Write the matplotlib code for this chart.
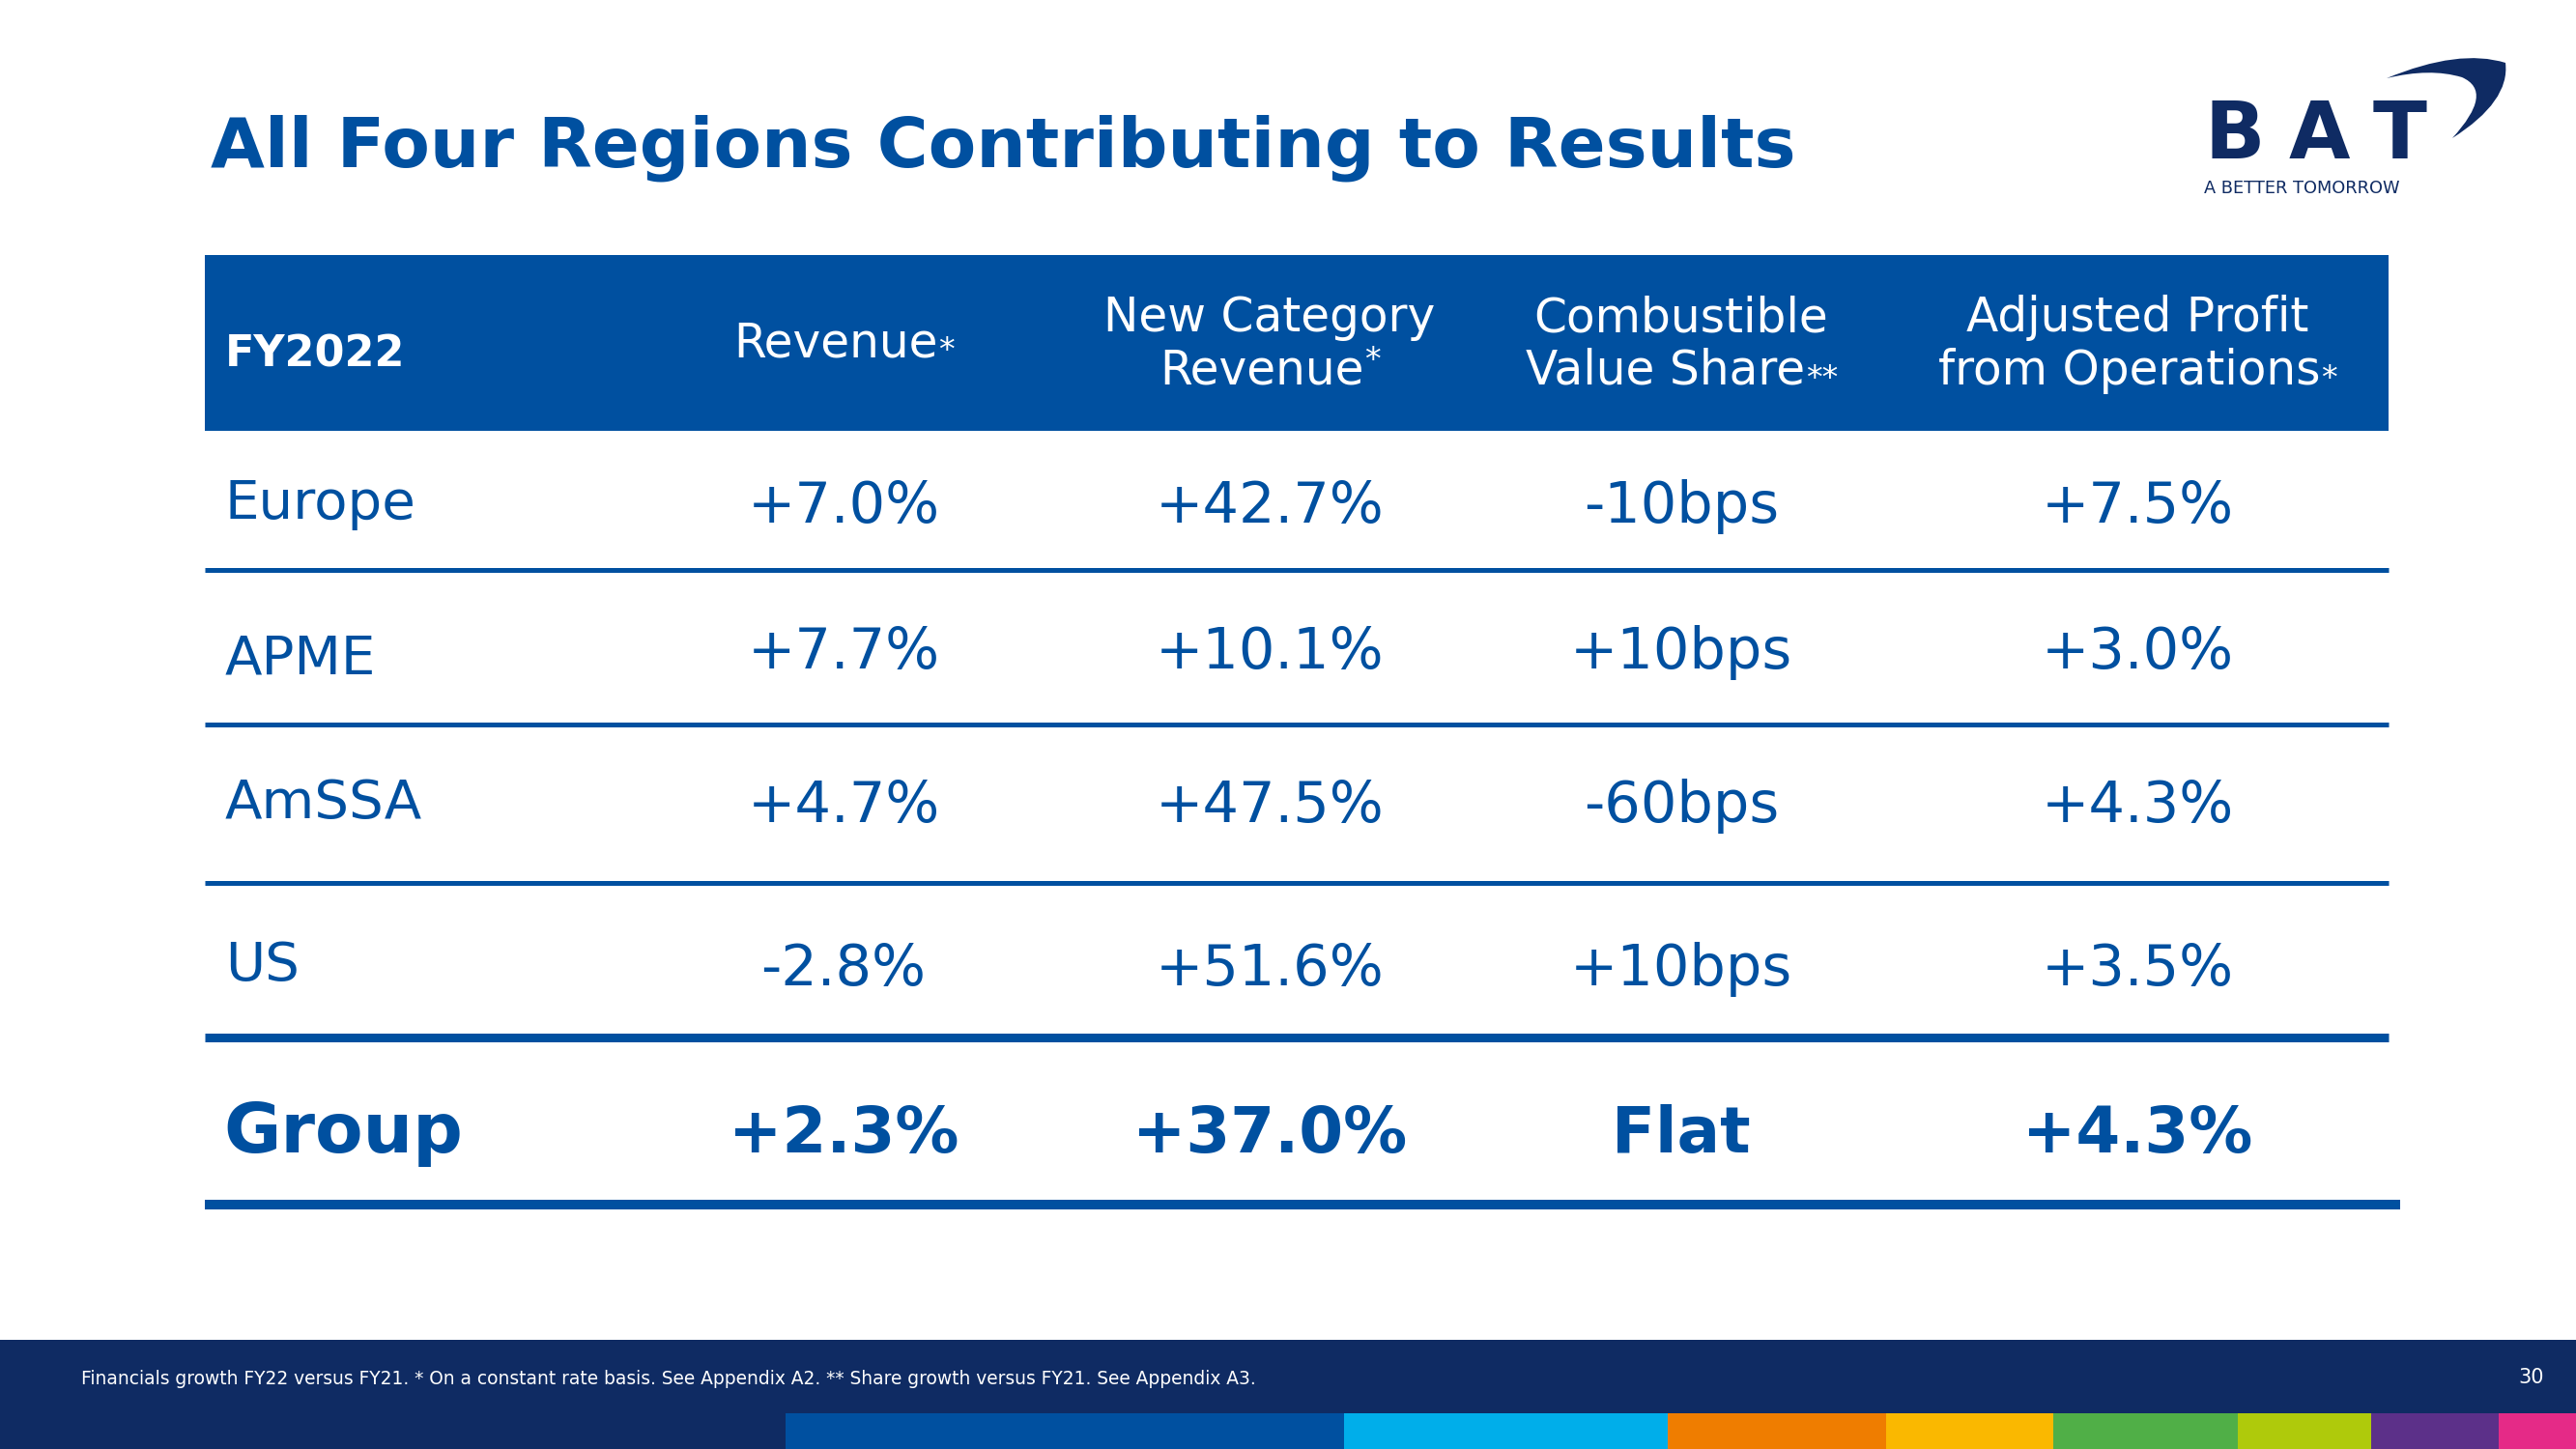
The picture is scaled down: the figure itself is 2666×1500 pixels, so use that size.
import matplotlib
matplotlib.use('Agg')
import matplotlib.pyplot as plt
from matplotlib.patches import Rectangle, PathPatch
from matplotlib.path import Path

# ── DATA ──────────────────────────────────────────────────────────
title = "All Four Regions Contributing to Results"
corner_label = "FY2022"

# header text per column (lines) and the footnote mark after each
header_lines = [["Revenue"],
                ["New Category", "Revenue"],
                ["Combustible", "Value Share"],
                ["Adjusted Profit", "from Operations"]]
header_marks = ["*", "*", "**", "*"]
header_mark_raised = [False, True, False, False]

regions = ["Europe", "APME", "AmSSA", "US"]
revenue = ["+7.0%", "+7.7%", "+4.7%", "-2.8%"]
new_cat_revenue = ["+42.7%", "+10.1%", "+47.5%", "+51.6%"]
value_share = ["-10bps", "+10bps", "-60bps", "+10bps"]
adj_profit = ["+7.5%", "+3.0%", "+4.3%", "+3.5%"]

group_label = "Group"
group_values = ["+2.3%", "+37.0%", "Flat", "+4.3%"]

footnote = ("Financials growth FY22 versus FY21. * On a constant rate basis. "
            "See Appendix A2. ** Share growth versus FY21. See Appendix A3.")
page_no = "30"

stripe_colors = ["#0050A0", "#00AEEA", "#EF7D00", "#FAB800",
                 "#50AF47", "#AFCA0B", "#5C3089", "#E52A87"]

# ── STYLE / LAYOUT (pixel space, y down) ─────────────────────────
W, H = 2666, 1500
BLUE = "#0050A0"
NAVY = "#0F2B63"
FONT = "DejaVu Sans"
PX = 0.72  # px -> pt at dpi 100

col_x = [873, 1314, 1740, 2212]
label_x = 233
row_label_base = [537, 698, 847, 1015]
row_value_base = [541, 692, 851, 1020]
row_lines = [590, 750, 914]
group_base = 1193
stripe_edges = [813, 1391, 1726, 1952, 2125, 2316, 2454, 2586, 2666]

plt.rcParams['font.family'] = [FONT]

fig = plt.figure(figsize=(W / 100, H / 100), dpi=100)
ax = fig.add_axes([0, 0, 1, 1])
ax.set_xlim(0, W)
ax.set_ylim(H, 0)
ax.axis('off')
renderer = fig.canvas.get_renderer()


def text_width(t):
    bb = t.get_window_extent(renderer)
    return bb.width  # 1 px == 1 data unit here


# ── TITLE + LOGO ─────────────────────────────────────────────────
ax.text(218, 172, title, fontsize=52, fontweight='bold', color=BLUE,
        ha='left', va='baseline')

for letter, lx in zip("BAT", [2313, 2400, 2484]):
    ax.text(lx, 164, letter, fontsize=59, fontweight='bold', color=NAVY,
            ha='center', va='baseline')
ax.text(2281, 200, "A BETTER TOMORROW", fontsize=12.8, color=NAVY,
        ha='left', va='baseline')
swoosh = Path([(2470, 81), (2545, 50), (2593, 65), (2598, 105), (2538, 143),
               (2582, 95), (2548, 80), (2515, 70), (2470, 81), (2470, 81)],
              [Path.MOVETO, Path.CURVE3, Path.CURVE3, Path.CURVE3, Path.CURVE3,
               Path.CURVE3, Path.CURVE3, Path.CURVE3, Path.CURVE3, Path.CLOSEPOLY])
ax.add_patch(PathPatch(swoosh, facecolor=NAVY, edgecolor='none'))

# ── HEADER BAND ──────────────────────────────────────────────────
ax.add_patch(Rectangle((212, 264), 2472 - 212, 446 - 264,
                       facecolor=BLUE, edgecolor='none'))
ax.text(label_x, 380, corner_label, fontsize=32, fontweight='bold',
        color='white', ha='left', va='baseline')

HEAD_FS = 35
STAR_FS = 24
for cx, lines, mark, raised in zip(col_x, header_lines, header_marks,
                                   header_mark_raised):
    bases = [369] if len(lines) == 1 else [343, 398]
    for i, (line, base) in enumerate(zip(lines, bases)):
        last = i == len(lines) - 1
        if not last:
            ax.text(cx, base, line, fontsize=HEAD_FS, color='white',
                    ha='center', va='baseline')
            continue
        star = ax.text(0, 0, mark, fontsize=STAR_FS, color='white',
                       ha='left', va='baseline')
        sw = text_width(star)
        word = ax.text(cx - sw / 2, base, line, fontsize=HEAD_FS,
                       color='white', ha='center', va='baseline')
        ww = text_width(word)
        star.set_position((cx - sw / 2 + ww / 2 + 1,
                           base - 15 if raised else base + 4))

# ── BODY ROWS ────────────────────────────────────────────────────
columns = [revenue, new_cat_revenue, value_share, adj_profit]
for r, name in enumerate(regions):
    ax.text(label_x, row_label_base[r], name, fontsize=40.5, color=BLUE,
            ha='left', va='baseline')
    for cx, col in zip(col_x, columns):
        ax.text(cx, row_value_base[r], col[r], fontsize=42.5, color=BLUE,
                ha='center', va='baseline')

for y in row_lines:
    ax.plot([212, 2472], [y, y], color=BLUE, lw=5 * PX, solid_capstyle='butt')
ax.plot([212, 2472], [1074, 1074], color=BLUE, lw=9 * PX, solid_capstyle='butt')

ax.text(231, group_base, group_label, fontsize=52, fontweight='bold',
        color=BLUE, ha='left', va='baseline')
for cx, v in zip(col_x, group_values):
    ax.text(cx, group_base, v, fontsize=47.5, fontweight='bold', color=BLUE,
            ha='center', va='baseline')
ax.plot([212, 2484], [1247, 1247], color=BLUE, lw=10 * PX, solid_capstyle='butt')

# ── FOOTER ───────────────────────────────────────────────────────
ax.add_patch(Rectangle((0, 1387), W, H - 1387, facecolor=NAVY, edgecolor='none'))
for x0, x1, c in zip(stripe_edges[:-1], stripe_edges[1:], stripe_colors):
    ax.add_patch(Rectangle((x0, 1463), x1 - x0, H - 1463,
                           facecolor=c, edgecolor='none'))
ax.text(84, 1433, footnote, fontsize=13.4, color='white',
        ha='left', va='baseline')
ax.text(2633, 1432, page_no, fontsize=15, color='white',
        ha='right', va='baseline')

fig.savefig("out.png", dpi=100)
plt.close(fig)
